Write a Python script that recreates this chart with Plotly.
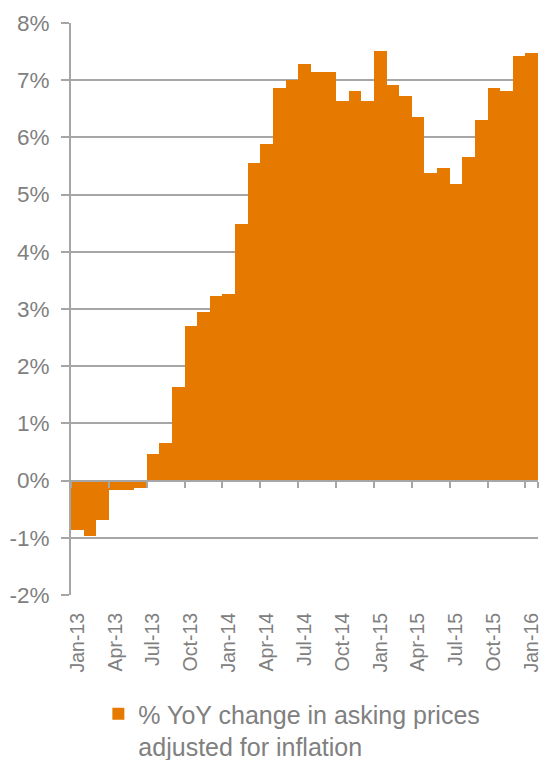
import plotly.graph_objects as go

months = ["Jan-13","Feb-13","Mar-13","Apr-13","May-13","Jun-13","Jul-13","Aug-13","Sep-13","Oct-13","Nov-13","Dec-13",
          "Jan-14","Feb-14","Mar-14","Apr-14","May-14","Jun-14","Jul-14","Aug-14","Sep-14","Oct-14","Nov-14","Dec-14",
          "Jan-15","Feb-15","Mar-15","Apr-15","May-15","Jun-15","Jul-15","Aug-15","Sep-15","Oct-15","Nov-15","Dec-15",
          "Jan-16"]
values = [-0.87, -0.97, -0.69, -0.17, -0.17, -0.13, 0.47, 0.66, 1.64, 2.71, 2.94, 3.23,
          3.27, 4.49, 5.56, 5.89, 6.87, 7.01, 7.29, 7.15, 7.15, 6.63, 6.81, 6.63,
          7.51, 6.91, 6.72, 6.35, 5.37, 5.46, 5.19, 5.65, 6.31, 6.87, 6.82, 7.43,
          7.47]
tick_every = 3
y_ticks = list(range(-2, 9))
series_name = "% YoY change in asking prices<br>adjusted for inflation"

idx = list(range(len(months)))
label_pos = idx[::tick_every]
label_txt = months[::tick_every]
boundary_pos = [i - 0.5 for i in label_pos]

grey = "#A6A6A6"
txt = "#808080"
font_family = "Arial, Liberation Sans, sans-serif"

fig = go.Figure()
fig.add_trace(go.Bar(
    x=idx, y=values, width=1.0, name=series_name,
    marker=dict(color="#E67A00", line=dict(width=0)),
))
# invisible trace carrying the zero-line axis with boundary ticks
fig.add_trace(go.Scatter(x=[idx[0]], y=[0], xaxis="x2", mode="markers",
                         marker=dict(opacity=0), showlegend=False, hoverinfo="skip"))

fig.update_layout(
    width=545, height=760,
    margin=dict(l=71, r=7, t=23, b=165, autoexpand=False),
    paper_bgcolor="white", plot_bgcolor="white",
    bargap=0,
    font=dict(family=font_family, size=20, color=txt),
    xaxis=dict(
        range=[-0.5, len(months) - 0.5], automargin=False,
        tickmode="array", tickvals=label_pos, ticktext=label_txt,
        tickangle=-90, ticks="", ticklabelstandoff=13,
        showgrid=False, showline=False, zeroline=False,
        tickfont=dict(size=19.5, color=txt),
    ),
    xaxis2=dict(
        overlaying="x", anchor="free", position=2 / 10, automargin=False,
        range=[-0.5, len(months) - 0.5],
        tickmode="array", tickvals=boundary_pos + [len(months) - 0.5],
        showticklabels=False, ticks="outside", ticklen=6, tickwidth=2, tickcolor=grey,
        showline=True, linecolor=grey, linewidth=2, showgrid=False, zeroline=False,
    ),
    yaxis=dict(
        range=[-2, 8], automargin=False, tickmode="array", tickvals=y_ticks,
        ticktext=[f"{v}%" for v in y_ticks],
        showgrid=True, gridcolor=grey, gridwidth=2,
        showline=True, linecolor=grey, linewidth=2,
        ticks="outside", ticklen=8, tickwidth=2, tickcolor=grey,
        ticklabelstandoff=7,
        zeroline=False, tickfont=dict(size=22.5, color=txt),
    ),
    showlegend=True,
    legend=dict(
        x=0.0586, y=-0.168, xanchor="left", yanchor="top", valign="top",
        font=dict(size=25, color=txt), bgcolor="rgba(0,0,0,0)",
        itemwidth=30,
    ),
)

fig.write_html("out.html", config={"displayModeBar": False},
               post_script="document.body.style.margin='0';")
